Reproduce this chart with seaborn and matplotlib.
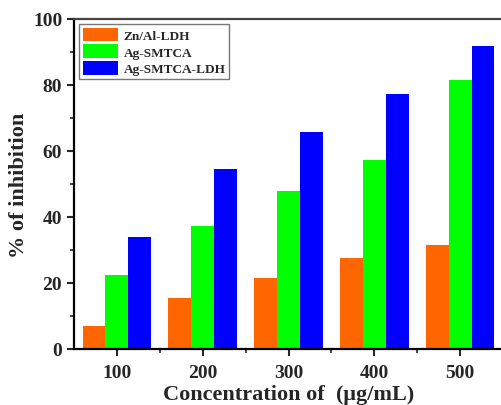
import pandas as pd
import matplotlib
matplotlib.use('Agg')
import matplotlib.pyplot as plt
import seaborn as sns
from matplotlib.ticker import MultipleLocator, FixedLocator

# data
concentrations = ['100', '200', '300', '400', '500']
samples = ['Zn/Al-LDH', 'Ag-SMTCA', 'Ag-SMTCA-LDH']
zn_al_ldh = [6.9, 15.4, 21.5, 27.5, 31.4]
ag_smtca = [22.5, 37.4, 48.0, 57.4, 81.6]
ag_smtca_ldh = [34.0, 54.5, 65.9, 77.4, 91.7]
colors = ['#FF6600', '#00FF00', '#0000FF']

df = pd.DataFrame({
    'conc': concentrations * 3,
    'value': zn_al_ldh + ag_smtca + ag_smtca_ldh,
    'sample': [s for s in samples for _ in concentrations],
})

sns.set_style('ticks')
plt.rcParams['font.family'] = ['Liberation Serif', 'DejaVu Serif']
plt.rcParams['font.weight'] = 'bold'

fig = plt.figure(figsize=(5.01, 4.06), dpi=100)
ax = fig.add_axes([74 / 501, 1 - 350 / 406, 429 / 501, 330 / 406])

sns.barplot(data=df, x='conc', y='value', hue='sample', hue_order=samples,
            palette=colors, width=0.8, saturation=1, linewidth=0, ax=ax)

ax.set_xlim(-0.5, 4.5)
ax.set_ylim(0, 100)
ax.yaxis.set_major_locator(MultipleLocator(20))
ax.yaxis.set_minor_locator(MultipleLocator(10))
ax.xaxis.set_minor_locator(FixedLocator([0.5, 1.5, 2.5, 3.5]))
ax.tick_params(axis='both', which='major', direction='out', length=5, width=1.5,
               labelsize=14)
ax.tick_params(axis='x', which='major', pad=6)
ax.tick_params(axis='both', which='minor', direction='out', length=3, width=1.2)
for lab in ax.get_xticklabels() + ax.get_yticklabels():
    lab.set_fontweight('bold')

for side in ['left', 'bottom', 'top', 'right']:
    ax.spines[side].set_visible(True)
    ax.spines[side].set_linewidth(1.6)
    ax.spines[side].set_color('black')
ax.spines['top'].set_color('#444444')

ax.set_xlabel('Concentration of  (\u03bcg/mL)', fontsize=16, fontweight='bold', labelpad=2)
ax.set_ylabel('% of inhibition', fontsize=16, fontweight='bold', labelpad=3)

leg = ax.legend(loc='upper left', bbox_to_anchor=(0.0, 1.0), fontsize=9.5,
                frameon=True, fancybox=False, edgecolor='#555555',
                handlelength=2.7, handleheight=1.2, borderpad=0.3,
                labelspacing=0.2, handletextpad=0.4, borderaxespad=0.35)
leg.get_frame().set_linewidth(1.0)
for t in leg.get_texts():
    t.set_fontweight('bold')

fig.savefig('out.png', dpi=100)
